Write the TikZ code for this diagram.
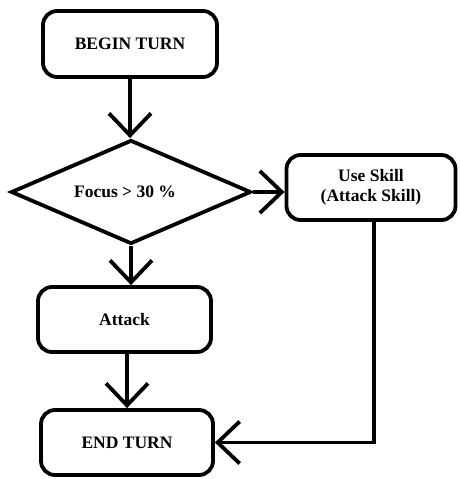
\documentclass[tikz,border=0pt]{standalone}
\usepackage{fontspec}
\setmainfont{Liberation Serif}
\usetikzlibrary{shapes.geometric,arrows.meta}
\tikzset{
  box/.style={draw, line width=3.8pt, rounded corners=14pt, inner sep=0pt,
    font=\fontsize{17.5}{20}\selectfont\bfseries, align=center},
  dia/.style={draw, diamond, line width=3.8pt, inner sep=0pt, aspect=2.3,
    font=\fontsize{17.5}{20}\selectfont\bfseries},
  flow/.style={line width=3.8pt, -{Straight Barb[length=22pt,width=42pt]}}
}
\begin{document}
\begin{tikzpicture}[x=1pt,y=-1pt]
\useasboundingbox (0,0) rectangle (459,479);
\node[box, minimum width=174pt, minimum height=66pt] (begin) at (130,44) {BEGIN TURN};
\node[dia, minimum width=240pt, minimum height=104pt] (focus) at (131,192) {\hspace*{-12pt}Focus > 30 \%};
\node[box, minimum width=169pt, minimum height=65pt] (skill) at (371,187.5) {Use Skill\\(Attack Skill)};
\node[box, minimum width=173pt, minimum height=65pt] (attack) at (124.5,319.5) {Attack};
\node[box, minimum width=172pt, minimum height=65pt] (end) at (127,442.5) {END TURN};
\draw[flow] (begin.south) -- (begin.south |- focus.north);
\draw[flow] (focus.east) -- (skill.west |- focus.east);
\draw[flow] (focus.south) -- (focus.south |- attack.north);
\draw[flow] (end.north |- attack.south) -- (end.north);
\draw[flow] ([xshift=3pt]skill.south) |- (end.east);
\end{tikzpicture}
\end{document}
